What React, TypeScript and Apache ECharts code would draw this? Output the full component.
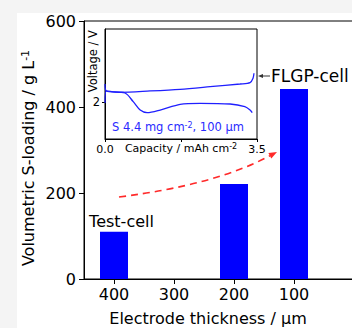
import React, { useEffect, useRef } from "react";
import * as echarts from "echarts";

// Main chart data
const thickness = [400, 200, 100];
const loading = [110, 221, 442];
const xTickValues = [400, 300, 200, 100];

// Inset voltage profiles (capacity mAh cm-2, voltage V)
const chargeCap = [0.0, 0.03, 0.35, 1.04, 1.73, 2.42, 3.11, 3.34, 3.41, 3.43];
const chargeV = [1.99, 2.155, 2.137, 2.155, 2.178, 2.213, 2.25, 2.268, 2.332, 2.396];
const dischargeCap = [0.0, 0.03, 0.46, 0.65, 0.81, 0.97, 1.27, 1.73, 2.19, 2.88, 3.22, 3.34, 3.39];
const dischargeV = [2.25, 2.155, 2.127, 2.009, 1.895, 1.859, 1.895, 1.973, 1.987, 1.977, 1.94, 1.895, 1.859];

const FONT = "DejaVu Sans";

export default function App() {
  const ref = useRef<HTMLDivElement>(null);
  useEffect(() => {
    if (!ref.current) return;
    const chart = echarts.init(ref.current, null, { renderer: "svg" });
    const sup = { fontSize: 10, verticalAlign: "top" as const, fontFamily: FONT };
    const option: any = {
      animation: false,
      textStyle: { fontFamily: FONT, color: "#000" },
      grid: [
        { left: 84, top: 21, width: 270, height: 258, show: true, borderColor: "#000", borderWidth: 1, backgroundColor: "transparent", outerBoundsMode: "none", containLabel: false },
        { left: 105, top: 29, width: 152, height: 110, show: true, borderColor: "#000", borderWidth: 1, backgroundColor: "#fff", z: 3, outerBoundsMode: "none", containLabel: false },
      ],
      xAxis: [
        {
          type: "value", gridIndex: 0, min: 0, max: 450, inverse: true,
          axisLine: { show: true, onZero: false, lineStyle: { color: "#000", width: 1 } },
          axisTick: { show: true, customValues: xTickValues, length: 5, lineStyle: { color: "#000" } },
          axisLabel: { customValues: xTickValues, fontSize: 16, color: "#000", margin: 7, fontFamily: FONT },
          splitLine: { show: false },
        },
        {
          type: "value", gridIndex: 1, min: 0, max: 3.5, interval: 1.75,
          axisLine: { show: true, onZero: false, lineStyle: { color: "#000", width: 1 } },
          axisTick: { show: true, length: 3, lineStyle: { color: "#000" } },
          axisLabel: {
            fontSize: 11, color: "#000", margin: 5, fontFamily: FONT,
            formatter: (v: number) => (v === 0 || v === 3.5 ? v.toFixed(1) : ""),
          },
          splitLine: { show: false },
          z: 4,
        },
      ],
      yAxis: [
        {
          type: "value", gridIndex: 0, min: 0, max: 600, interval: 200,
          axisLine: { show: true, onZero: false, lineStyle: { color: "#000", width: 1 } },
          axisTick: { show: true, length: 5, lineStyle: { color: "#000" } },
          axisLabel: { fontSize: 16, color: "#000", margin: 8, fontFamily: FONT },
          splitLine: { show: false },
        },
        {
          type: "value", gridIndex: 1, min: 1.5, max: 3.0, interval: 0.5,
          axisLine: { show: true, onZero: false, lineStyle: { color: "#000", width: 1 } },
          axisTick: { show: true, customValues: [2], length: 3, lineStyle: { color: "#000" } },
          axisLabel: { customValues: [2], fontSize: 11.5, color: "#000", margin: 5, fontFamily: FONT },
          splitLine: { show: false },
          z: 4,
        },
      ],
      series: [
        {
          type: "bar", xAxisIndex: 0, yAxisIndex: 0, barWidth: 28,
          itemStyle: { color: "#0000ff" },
          data: thickness.map((t, i) => [t, loading[i]]),
        },
        {
          type: "line", xAxisIndex: 1, yAxisIndex: 1, smooth: 0.3, showSymbol: false, symbol: "none",
          lineStyle: { color: "#1f1fff", width: 1.3 }, z: 5,
          data: chargeCap.map((c, i) => [c, chargeV[i]]),
        },
        {
          type: "line", xAxisIndex: 1, yAxisIndex: 1, smooth: 0.3, showSymbol: false, symbol: "none",
          lineStyle: { color: "#1f1fff", width: 1.3 }, z: 5,
          data: dischargeCap.map((c, i) => [c, dischargeV[i]]),
        },
      ],
      graphic: [
        {
          type: "text", x: 28, y: 158, rotation: Math.PI / 2, z: 100,
          style: {
            text: "Volumetric S-loading / g L{sup|-1}", fontSize: 16, fontFamily: FONT, fill: "#000",
            align: "center", verticalAlign: "middle", rich: { sup: { ...sup, fontSize: 11 } },
          },
        },
        {
          type: "text", x: 208, y: 318, z: 100,
          style: { text: "Electrode thickness / μm", fontSize: 16, fontFamily: FONT, fill: "#000", align: "center", verticalAlign: "middle" },
        },
        {
          type: "text", x: 121.5, y: 221, z: 100,
          style: { text: "Test-cell", fontSize: 16, fontFamily: FONT, fill: "#000", align: "center", verticalAlign: "middle" },
        },
        {
          type: "text", x: 271, y: 76, z: 100,
          style: { text: "FLGP-cell", fontSize: 17, fontFamily: FONT, fill: "#000", align: "left", verticalAlign: "middle" },
        },
        {
          type: "line", z: 100,
          shape: { x1: 261, y1: 76, x2: 270, y2: 76 },
          style: { stroke: "#333", lineWidth: 1 },
        },
        {
          type: "polygon", z: 100,
          shape: { points: [[258, 76], [263, 74], [263, 78]] },
          style: { fill: "#333" },
        },
        {
          type: "bezierCurve", z: 100,
          shape: { x1: 119, y1: 197, x2: 270, y2: 155.7, cpx1: 215, cpy1: 185 },
          style: { stroke: "#ff2a2a", lineWidth: 1.6, lineDash: [7, 5], fill: null },
        },
        {
          type: "polygon", z: 100,
          shape: { points: [[277, 152], [271.3, 158.6], [268.4, 153.0]] },
          style: { fill: "#ff2a2a" },
        },
        {
          type: "text", x: 178, y: 127, z: 100,
          style: {
            text: "S 4.4 mg cm{sup|-2}, 100 μm", fontSize: 11.5, fontFamily: FONT, fill: "#2a2aff",
            align: "center", verticalAlign: "middle", rich: { sup: { ...sup, fontSize: 8, fill: "#2a2aff" } },
          },
        },
        {
          type: "text", x: 181, y: 148, z: 100,
          style: {
            text: "Capacity / mAh cm{sup|-2}", fontSize: 11, fontFamily: FONT, fill: "#000",
            align: "center", verticalAlign: "middle", rich: { sup: { ...sup, fontSize: 8 } },
          },
        },
        {
          type: "text", x: 93, y: 30, rotation: Math.PI / 2, z: 100,
          style: { text: "Voltage / V", fontSize: 11.5, fontFamily: FONT, fill: "#000", align: "right", verticalAlign: "middle" },
        },
      ],
    };
    chart.setOption(option);
    return () => chart.dispose();
  }, []);
  return (
    <div style={{ position: "fixed", left: 0, top: 0, width: 352, height: 328, background: "#f4f4f4" }}>
      <div style={{ position: "absolute", left: 17, top: 13, right: 0, bottom: 0, background: "#fff" }} />
      <div ref={ref} style={{ position: "absolute", left: 0, top: 0, width: 352, height: 328 }} />
    </div>
  );
}
